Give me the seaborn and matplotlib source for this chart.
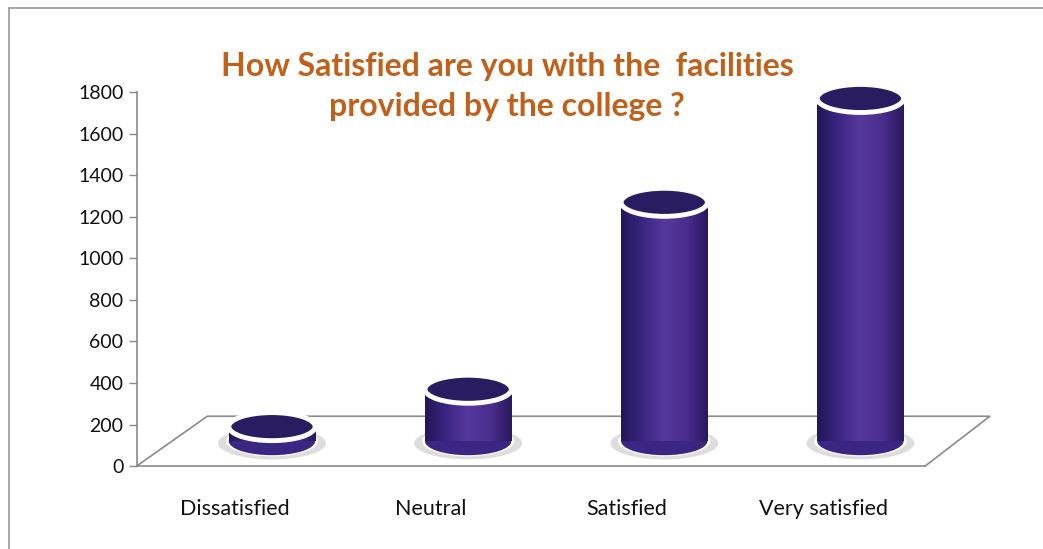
import numpy as np
import pandas as pd
import matplotlib
matplotlib.use('Agg')
import matplotlib.pyplot as plt
from matplotlib.patches import Ellipse, Rectangle
from matplotlib.colors import LinearSegmentedColormap
import seaborn as sns

# Survey responses
categories = ['Dissatisfied', 'Neutral', 'Satisfied', 'Very satisfied']
responses = [70, 250, 1150, 1650]
y_ticks = [0, 200, 400, 600, 800, 1000, 1200, 1400, 1600, 1800]

df = pd.DataFrame({'category': categories, 'responses': responses})

sns.set_theme(style='white')
plt.rcParams['font.family'] = ['Lato', 'DejaVu Sans']

fig = plt.figure(figsize=(10.43, 5.49), dpi=100)
fig.patch.set_facecolor('white')
ax = fig.add_axes([0.131, 0.151, 0.756, 0.681])

bar_w = 0.44
sns.barplot(data=df, x='category', y='responses', color='#432780',
            width=bar_w, ax=ax, zorder=3)

# fake 3d: bars stand in the middle of the floor depth
depth_x, depth_y = 0.19, 120

body = LinearSegmentedColormap.from_list(
    'cyl', ['#231657', '#3b2683', '#56399c', '#4a2e8e', '#2a185f'])
grad = np.linspace(0, 1, 256).reshape(1, -1)
cap_h = 135
for bar, val in zip(ax.patches, responses):
    bar.set_x(bar.get_x() + depth_x)
    bar.set_y(depth_y)
    bar.set_edgecolor('none')
    x0 = bar.get_x()
    w = bar.get_width()
    xc = x0 + w / 2
    top = depth_y + val
    # soft shadow and white base rim
    ax.add_patch(Ellipse((xc, depth_y - 10), w * 1.25, cap_h * 1.15,
                         facecolor='#c4c0c0', edgecolor='none', alpha=0.55,
                         zorder=1, clip_on=False))
    ax.add_patch(Ellipse((xc, depth_y), w * 1.07, cap_h * 1.08,
                         facecolor='white', edgecolor='none', zorder=2,
                         clip_on=False))
    im = ax.imshow(grad, cmap=body, aspect='auto', zorder=3.5,
                   extent=(x0, x0 + w, depth_y, top))
    im.set_clip_path(bar)
    ax.add_patch(Ellipse((xc, depth_y), w, cap_h, facecolor='#3b2683',
                         edgecolor='none', zorder=3.4, clip_on=False))
    # top cap
    ax.add_patch(Ellipse((xc, top), w, cap_h, facecolor='#2a1c60',
                         edgecolor='white', lw=3.5, zorder=5, clip_on=False))

# perspective floor
ax.plot([-0.5, -0.14, 3.85, 3.52], [0, 240, 240, 0], color='#8a8a8a',
        lw=1.2, zorder=0.5, clip_on=False)

ax.set_xlim(-0.5, 3.52)
ax.set_ylim(0, 1800)
ax.set_yticks(y_ticks)
ax.set_xticks(range(len(categories)))
ax.set_xticklabels(categories, fontsize=15.5, color='#111111')
ax.set_xticks([0.5, 1.5, 2.5, 3.5], minor=True)
ax.tick_params(axis='x', which='major', length=0, pad=24)
ax.tick_params(axis='x', which='minor', length=6, direction='out',
               color='#8a8a8a', width=1)
ax.tick_params(axis='y', length=6, direction='out', color='#8a8a8a',
               labelsize=14, labelcolor='#111111', left=True, width=1)
ax.set_xlabel('')
ax.set_ylabel('')
for s in ['top', 'right']:
    ax.spines[s].set_visible(False)
for s in ['left', 'bottom']:
    ax.spines[s].set_color('#8a8a8a')
    ax.spines[s].set_linewidth(1.2)
ax.set_facecolor('none')

fig.text(0.486, 0.842, 'How Satisfied are you with the  facilities\nprovided by the college ?',
         ha='center', va='center', fontsize=23, fontweight='bold',
         color='#c0601a', linespacing=1.45)

# outer frame
fig.patches.append(Rectangle((0.009, -0.01), 1.0, 0.995, transform=fig.transFigure,
                             fill=False, edgecolor='#9a9a9a', lw=1.2))

fig.savefig('out.png', dpi=100)
